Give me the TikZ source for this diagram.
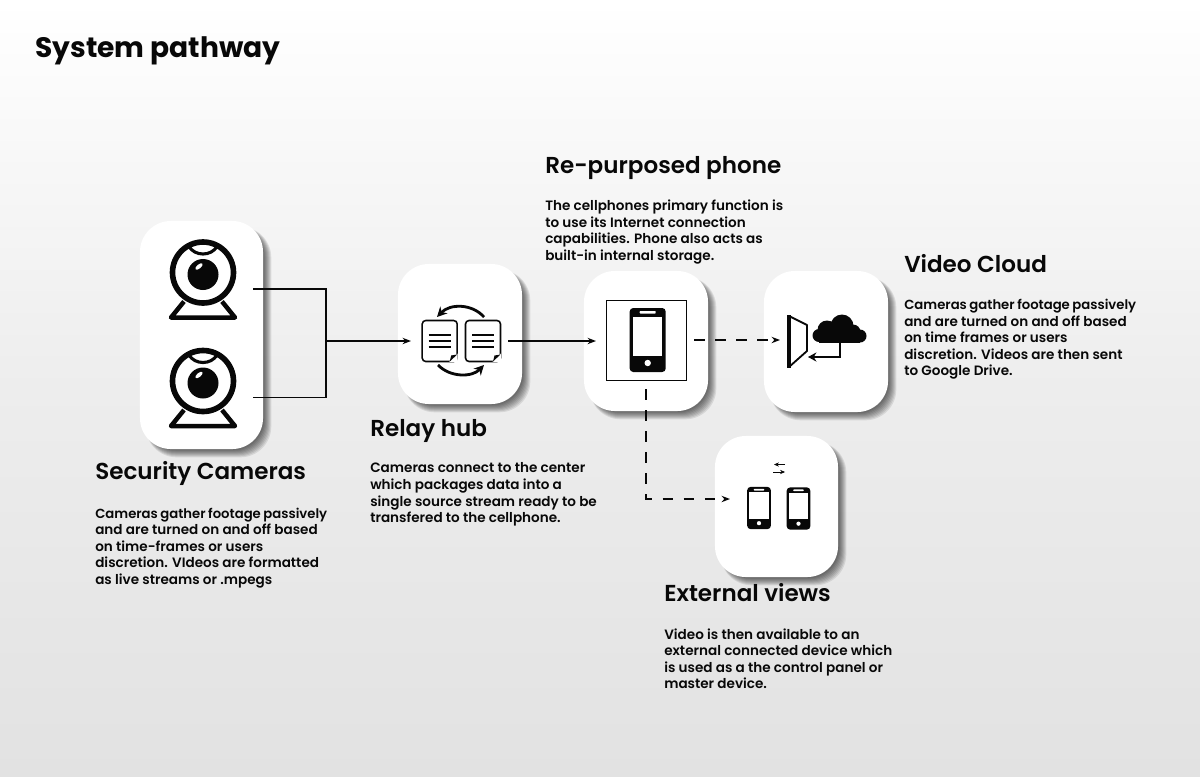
\documentclass[tikz,border=0pt]{standalone}
\usepackage{fontspec}
\setmainfont{Poppins}
\newfontfamily\headfont{Poppins SemiBold}
\newfontfamily\titlefont{Poppins Bold}
\newfontfamily\bodyfont{Poppins SemiBold}
\usepackage{xcolor}
\usetikzlibrary{arrows.meta, positioning, calc, backgrounds}
\definecolor{InkBlack}{RGB}{8, 8, 8}
\definecolor{PageGray}{RGB}{226, 226, 226}
\definecolor{MidGray}{RGB}{237, 237, 237}
\newcommand{\cardshadow}[1]{%
  \foreach \spread in {1,...,8}
    \fill[black, opacity=0.09, rounded corners=22pt]
      ($(#1.north west)+(6,6)$) rectangle ($(#1.south east)+(\spread,\spread)$);
}
\newcommand{\tightline}[1]{{\fontsize{9.4}{11.75}\selectfont\spaceskip=1.8pt #1}}
\tikzset{
  card/.style={rectangle, rounded corners=22pt, fill=white, inner sep=0pt},
  head/.style={anchor=west, inner sep=0pt, text height=12pt, text depth=3pt,
    font=\fontsize{16.4}{20}\selectfont\headfont, text=InkBlack},
  body/.style={anchor=north west, inner sep=0pt, align=left, text=InkBlack,
    font=\fontsize{9.65}{11.75}\selectfont\bodyfont},
  arr/.style={-{Stealth[length=6pt,width=4.5pt]}, line width=1.3pt, color=InkBlack},
  darr/.style={arr, line width=1.6pt, dash pattern=on 7.5pt off 7.5pt},
  webcam/.pic={
    \draw[InkBlack, line width=3.2pt, line join=round] (-19,29) -- (-32,45) -- (32,45) -- (19,29);
    \draw[InkBlack, fill=white, line width=4pt] (0,0) circle [radius=30.5];
    \draw[InkBlack, line width=2.2pt] (-14,-26) .. controls (-8,-16) and (8,-16) .. (14,-26);
    \fill[InkBlack] (0,2) circle [radius=15.5];
    \fill[white, rotate around={40:(-4,-6)}] (-4,-6) ellipse [x radius=4.5, y radius=2];
  },
  phoneicon/.pic={
    \fill[InkBlack] (-18,-32) [rounded corners=2.5pt] rectangle (18,32);
    \fill[white] (-14.5,-23.5) rectangle (14.5,16);
    \fill[white, rounded corners=0.5pt] (-8,-29) rectangle (8,-26.5);
    \fill[white] (0,23) circle [radius=3.2];
  },
  docicon/.pic={
    \draw[InkBlack, line width=1.1pt, rounded corners=2.5pt, fill=white] (-17.5,-20.5) rectangle (17.5,20.5);
    \fill[white] (9.5,20.9) -- (17.9,20.9) -- (17.9,12.5) -- cycle;
    \fill[InkBlack] (10,20.5) -- (17.5,13.5) -- (11.5,14.5) -- cycle;
    \foreach \ypos in {-6,0,6}
      \draw[InkBlack, line width=1.3pt] (-11,\ypos) -- (11,\ypos);
  },
}
\begin{document}
\begin{tikzpicture}[x=0.025cm, y=-0.025cm]
  \useasboundingbox (0,0) rectangle (1200,776);

  \node[head, font=\fontsize{20}{24}\selectfont\titlefont] (title) at (35,51) {System pathway};

  % cards
  \node[card, minimum width=3.075cm, minimum height=5.7cm] (cams) at (201.5,335) {};
  \node[card, minimum width=3.1cm, minimum height=3.5cm] (hub) at (460,334) {};
  \node[card, minimum width=3.1cm, minimum height=3.5cm] (phone) at (646,341) {};
  \node[card, minimum width=3.1cm, minimum height=3.525cm] (cloud) at (826,341.5) {};
  \node[card, minimum width=3.075cm, minimum height=3.525cm] (views) at (776.5,506.5) {};
  \begin{pgfonlayer}{background}
    \shade[top color=white, bottom color=PageGray, middle color=MidGray, shading angle=0] (0,0) rectangle (1200,776);
    \cardshadow{cams} \cardshadow{hub} \cardshadow{phone} \cardshadow{cloud} \cardshadow{views}
  \end{pgfonlayer}

  % icons
  \pic at (203,272.5) {webcam};
  \pic at (203,381) {webcam};
  \pic at (439.7,341) {docicon};
  \pic at (483,341) {docicon};
  \draw[InkBlack, line width=2pt, -{Stealth[length=7pt,width=7pt]}] (484,317) .. controls (472,303.5) and (450,303.5) .. (437,317);
  \draw[InkBlack, line width=2pt, -{Stealth[length=7pt,width=7pt]}] (438,365) .. controls (450,377.5) and (472,377.5) .. (484,365);
  \node[draw=InkBlack, line width=0.7pt, minimum size=2cm, inner sep=0pt] (frame) at (646.7,340) {};
  \pic at (647.7,340) {phoneicon};
  \pic[scale=0.66] at (759,508) {phoneicon};
  \pic[scale=0.66] at (798.5,508.5) {phoneicon};
  \draw[InkBlack, line width=0.4pt, -{Stealth[length=3.5pt,width=3pt]}] (785,464.5) -- (774,464.5);
  \draw[InkBlack, line width=0.4pt, -{Stealth[length=3.5pt,width=3pt]}] (773,472) -- (785,472);
  % door and cloud
  \draw[InkBlack, line width=1.3pt, line join=round] (789,316) -- (807,325) -- (807,351) -- (789,367);
  \draw[InkBlack, line width=3pt] (789,315) -- (789,368);
  \foreach \cx/\cy/\cr in {819/335.5/6.5, 827/330/9.5, 842/326/11.5, 853/332/7.5, 860/336/6.5}
    \fill[InkBlack] (\cx,\cy) circle [radius=\cr];
  \fill[InkBlack] (819,330) rectangle (860,342.5);
  \draw[InkBlack, line width=1.8pt, -{Stealth[length=6pt,width=6.5pt]}] (840,342) |- (808,357);

  % connectors
  \coordinate (camA) at (253,289);
  \coordinate (camB) at (253,397.5);
  \coordinate (joint) at (326,341);
  \coordinate (hubin) at (411,341);
  \coordinate (hubout) at (508,341);
  \coordinate (phonein) at (596,341);
  \coordinate (phoneout) at (694,340);
  \coordinate (cloudin) at (780,340);
  \coordinate (phonedown) at (646,389);
  \coordinate (viewsin) at (730,499);
  \draw[InkBlack, line width=1.2pt] (camA) -| (joint) |- (camB);
  \draw[arr] (joint) -- (hubin);
  \draw[arr] (hubout) -- (phonein);
  \draw[darr] (phoneout) -- (cloudin);
  \draw[darr] (phonedown) |- (viewsin);

  % labels
  \node[head] (camshead) at (95,473.6) {Security Cameras};
  \node[body, below=16.5pt of camshead.south west, anchor=north west] (camsbody)
    {\tightline{Cameras gather footage passively}\\and are turned on and off based\\on time-frames or users\\discretion. VIdeos are formatted\\as live streams or .mpegs};
  \node[head] (hubhead) at (370,430) {Relay hub};
  \node[body, below=15.5pt of hubhead.south west, anchor=north west] (hubbody)
    {Cameras connect to the center\\which packages data into a\\single source stream ready to be\\transfered to the cellphone.};
  \node[head] (phonehead) at (545,167) {Re-purposed phone};
  \node[body, below=15.5pt of phonehead.south west, anchor=north west] (phonebody)
    {The cellphones primary function is\\to use its Internet connection\\capabilities. Phone also acts as\\built-in internal storage.};
  \node[head] (cloudhead) at (904,266) {Video Cloud};
  \node[body, below=15.9pt of cloudhead.south west, anchor=north west] (cloudbody)
    {\tightline{Cameras gather footage passively}\\and are turned on and off based\\on time frames or users\\discretion. Videos are then sent\\to Google Drive.};
  \node[head] (viewshead) at (664,595) {External views};
  \node[body, below=15.9pt of viewshead.south west, anchor=north west] (viewsbody)
    {Video is then available to an\\external connected device which\\is used as a the control panel or\\master device.};
\end{tikzpicture}
\end{document}
